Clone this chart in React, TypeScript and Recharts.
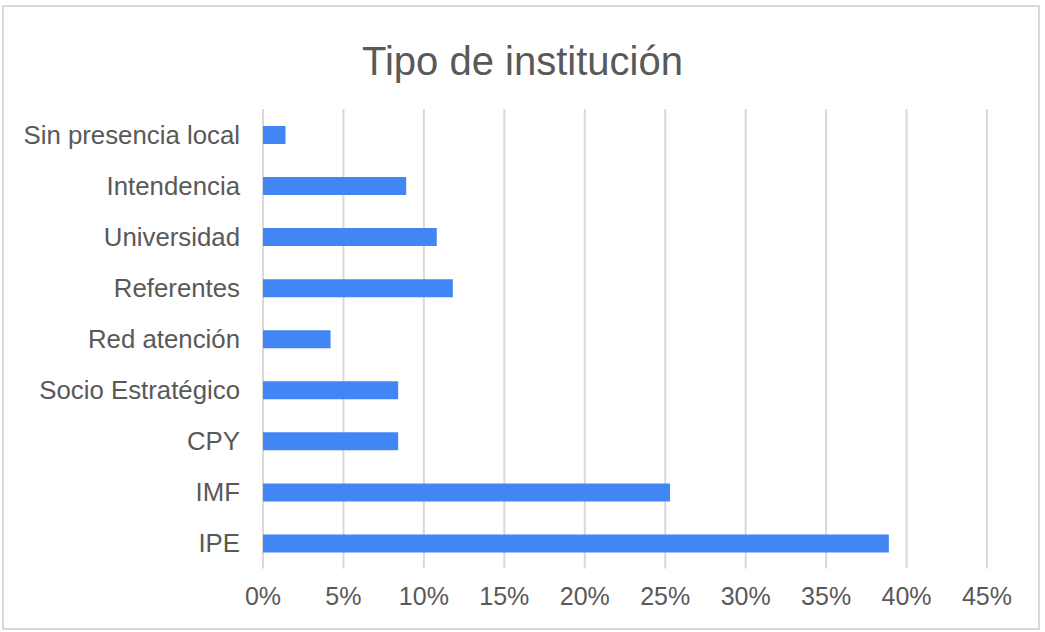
import React from "react";
import { BarChart, Bar, XAxis, YAxis, CartesianGrid } from "recharts";

const categories = [
  "Sin presencia local",
  "Intendencia",
  "Universidad",
  "Referentes",
  "Red atención",
  "Socio Estratégico",
  "CPY",
  "IMF",
  "IPE",
];
const values = [1.4, 8.9, 10.8, 11.8, 4.2, 8.4, 8.4, 25.3, 38.9];
const xTicks = [0, 5, 10, 15, 20, 25, 30, 35, 40, 45];
const title = "Tipo de institución";

const data = categories.map((name, i) => ({ name, value: values[i] }));

const FONT = "'Liberation Sans', Arial, sans-serif";
const TEXT = "#595959";

export default function App() {
  return (
    <div style={{ position: "absolute", left: 0, top: 0, width: 1045, height: 632, background: "#fff", fontFamily: FONT }}>
      <div
        style={{
          position: "absolute",
          left: 2,
          top: 5,
          width: 1038,
          height: 625,
          border: "2px solid #d9d9d9",
          boxSizing: "border-box",
        }}
      />
      <svg style={{ position: "absolute", left: 0, top: 0 }} width={1045} height={100}>
        <text x={522.5} y={75} textAnchor="middle" fontFamily={FONT} fontSize={40} fill={TEXT}>
          {title}
        </text>
      </svg>
      <div style={{ position: "absolute", left: 0, top: 0 }}>
        <BarChart
          width={1045}
          height={632}
          data={data}
          layout="vertical"
          margin={{ top: 109, right: 58, bottom: 0, left: 0 }}
          barSize={18}
        >
          <CartesianGrid horizontal={false} stroke="#d9d9d9" strokeWidth={2} />
          <XAxis
            type="number"
            domain={[0, 45]}
            ticks={xTicks}
            tickFormatter={(v: number) => `${v}%`}
            axisLine={false}
            tickLine={false}
            tickSize={0}
            tickMargin={19}
            height={63.5}
            interval={0}
            tick={{ fill: TEXT, fontSize: 25, fontFamily: FONT }}
          />
          <YAxis
            type="category"
            dataKey="name"
            width={263}
            axisLine={false}
            tickLine={false}
            tickSize={0}
            tickMargin={23}
            interval={0}
            tick={{ fill: TEXT, fontSize: 25.8, fontFamily: FONT }}
          />
          <Bar dataKey="value" fill="#4285f4" isAnimationActive={false} />
        </BarChart>
      </div>
    </div>
  );
}
